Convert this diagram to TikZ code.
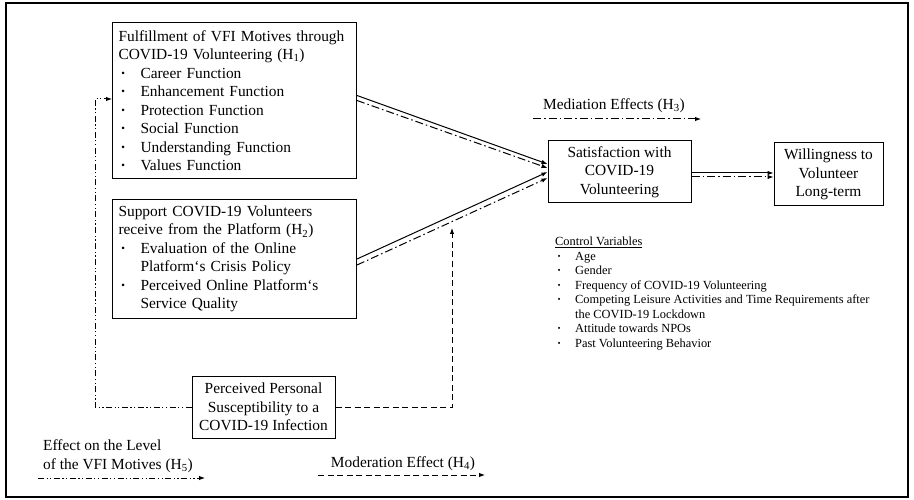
\documentclass[tikz,border=0pt]{standalone}
\usepackage{fontspec}
\setmainfont{Liberation Serif}
\usetikzlibrary{arrows.meta,positioning}

\newcommand{\bitem}{\makebox[22pt][l]{\hspace{2pt}\textbf{·}}}
\newcommand{\citem}{\makebox[20pt][l]{\hspace{2pt}\textbf{·}}}

\tikzset{
  varbox/.style={draw, line width=1pt, inner ysep=0pt, inner xsep=6pt,
    font=\fontsize{15.4pt}{18.5pt}\selectfont},
  lbl/.style={inner sep=0pt, align=left, font=\fontsize{15.4pt}{18.5pt}\selectfont},
  tip/.style={-{Latex[length=6pt,width=4.5pt]}},
  pathline/.style={tip, line width=1pt},
  medline/.style={tip, line width=1pt, dash pattern=on 8pt off 3pt on 1.5pt off 3pt},
  modline/.style={tip, line width=1pt, dash pattern=on 6pt off 3.5pt},
  lvlline/.style={tip, line width=1pt, dash pattern=on 6pt off 2.5pt on 1.2pt off 2.5pt on 1.2pt off 2.5pt}
}

\begin{document}
\begin{tikzpicture}[x=1pt,y=-1pt]
  \useasboundingbox (0,0) rectangle (914,500);
  \draw[line width=1.2pt] (6,3) rectangle (908,497);

  % boxes
  \node[varbox, text width=232pt, minimum height=156pt, anchor=north west, align=left] (vfi) at (112,22)
  {Fulfillment of VFI Motives through\\
   COVID-19 Volunteering (H\textsubscript{1})\\
   \bitem Career Function\\
   \bitem Enhancement Function\\
   \bitem Protection Function\\
   \bitem Social Function\\
   \bitem Understanding Function\\
   \bitem Values Function};
  \node[varbox, text width=232pt, minimum height=119pt, anchor=north west, align=left] (support) at (112,199)
  {Support COVID-19 Volunteers\\
   receive from the Platform (H\textsubscript{2})\\
   \bitem Evaluation of the Online\\
   \hspace*{22pt}Platform‘s Crisis Policy\\
   \bitem Perceived Online Platform‘s\\
   \hspace*{22pt}Service Quality};
  \node[varbox, minimum width=143pt, minimum height=62pt, align=center] (sat) at (619.5,172)
  {Satisfaction with\\ COVID-19\\ Volunteering};
  \node[varbox, minimum width=109pt, minimum height=63pt, align=center] (will) at (828.5,174.5)
  {Willingness to\\ Volunteer\\ Long-term};
  \node[varbox, minimum width=143pt, minimum height=62pt, align=center] (risk) at (263.5,407)
  {Perceived Personal\\ Susceptibility to a\\ COVID-19 Infection};

  \node[inner sep=0pt, align=left, anchor=north west, font=\fontsize{12.4pt}{14.5pt}\selectfont] (ctrl) at (555,237)
  {\underline{Control Variables}\\
   \citem Age\\
   \citem Gender\\
   \citem Frequency of COVID-19 Volunteering\\
   \citem Competing Leisure Activities and Time Requirements after\\
   \hspace*{20pt}the COVID-19 Lockdown\\
   \citem Attitude towards NPOs\\
   \citem Past Volunteering Behavior};

  % paths
  \draw[pathline] ([yshift=5pt]vfi.east) -- ([yshift=8pt]sat.west);
  \draw[medline] (vfi.east) -- ([yshift=4pt]sat.west);
  \draw[pathline] (support.east) -- (sat.west);
  \draw[medline] ([yshift=-6pt]support.east) -- ([yshift=-6pt]sat.west);
  \draw[pathline] ([yshift=-1pt]sat.east) -- ([yshift=-1pt]sat.east -| will.west);
  \draw[medline] ([yshift=-5pt]sat.east) -- ([yshift=-5pt]sat.east -| will.west);

  \coordinate (modtip) at (452,228);
  \draw[modline] (risk.east) -| (modtip);
  \coordinate (lvlcorner) at (95,99);
  \draw[lvlline] (risk.west) -| (lvlcorner) -- (lvlcorner -| vfi.west);

  % legend
  \node[lbl] (medlbl) at (614,106) {Mediation Effects (H\textsubscript{3})};
  \coordinate (meda) at (533,119);
  \coordinate (medb) at (701,119);
  \draw[medline] (meda) -- (medb);
  \node[lbl] (modlbl) at (403,464) {Moderation Effect (H\textsubscript{4})};
  \coordinate (moda) at (318,475);
  \coordinate (modb) at (485,475);
  \draw[modline] (moda) -- (modb);
  \node[lbl, anchor=west] (lvllbl) at (43,456) {Effect on the Level\\ of the VFI Motives (H\textsubscript{5})};
  \coordinate (lvla) at (38,478);
  \coordinate (lvlb) at (205,478);
  \draw[lvlline] (lvla) -- (lvlb);
\end{tikzpicture}
\end{document}
